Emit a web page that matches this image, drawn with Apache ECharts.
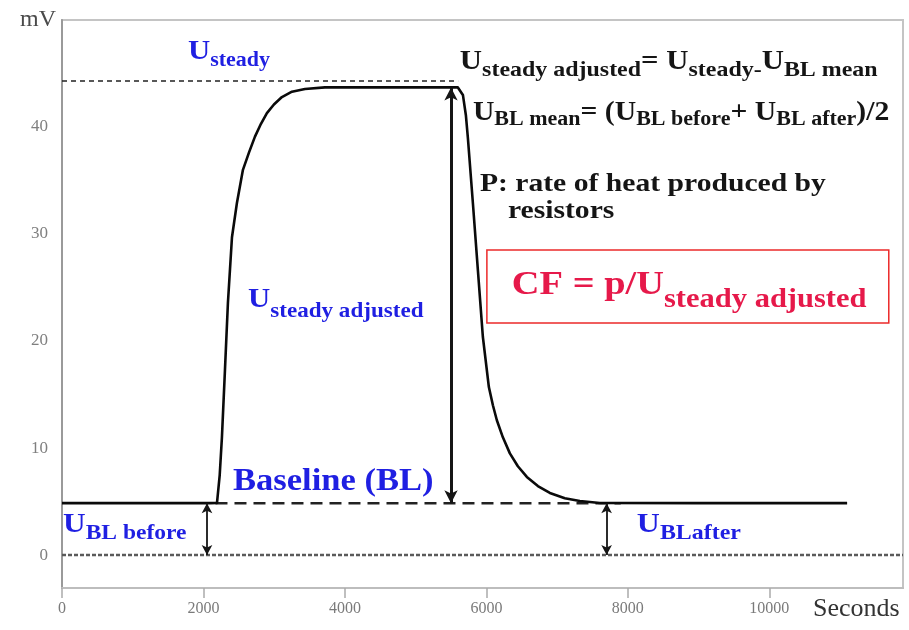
<!DOCTYPE html>
<html>
<head>
<meta charset="utf-8">
<title>Calibration factor from a heating pulse</title>
<script src="https://cdn.jsdelivr.net/npm/echarts@6/dist/echarts.min.js"></script>
<style>
  html, body { margin: 0; padding: 0; background: #fff; }
  #chart { width: 909px; height: 630px; }
</style>
</head>
<body>
<div id="chart"></div>
<script>
// Heat-flux sensor output (mV) over time (s) during an electrical calibration pulse
const timeS = [0, 2100, 2191, 2230, 2261, 2304, 2346, 2403, 2473, 2558, 2643, 2728, 2813, 2897, 2996,
  3109, 3251, 3435, 3717, 4600, 5597, 5625, 5668, 5710, 5738, 5809, 5880, 5950, 6035, 6092, 6148,
  6233, 6332, 6445, 6572, 6728, 6897, 7109, 7321, 7604, 9000, 11100];
const signalMV = [4.85, 4.85, 4.86, 7.5, 11.0, 17.3, 23.6, 29.7, 32.9, 36.0, 37.6, 39.1, 40.3, 41.3, 42.1,
  42.8, 43.3, 43.55, 43.7, 43.7, 43.7, 43.6, 43.0, 41.1, 39.0, 32.9, 26.6, 20.4, 15.7, 14.0, 12.6,
  11.0, 9.5, 8.3, 7.3, 6.45, 5.8, 5.3, 5.05, 4.86, 4.85, 4.85];

// Reference levels
const steadyMV = 44.3;       // U steady (dashed guide)
const baselineMV = 4.85;     // U BL
const zeroMV = 0;

// Where the level differences are measured (s)
const blBeforeT = 2050;
const adjustedT = 5500;
const blAfterT = 7700;

// Axis ticks
const yTickValues = [0, 10, 20, 30, 40];
const xTickStep = 2000;
const xMax = 11890;
const yMin = -3.08, yMax = 50;

const BLUE = '#1f1fe2';
const INK = '#151515';
const RED = '#e6194a';
const SERIF = '"Liberation Serif", "Times New Roman", serif';

function subStyles(color, big, small, drop) {
  return {
    U: { fontSize: big, fontWeight: 'bold', fontFamily: SERIF, fill: color, verticalAlign: 'top' },
    s: { fontSize: small, fontWeight: 'bold', fontFamily: SERIF, fill: color, verticalAlign: 'top', padding: [drop, 0, 0, 0] }
  };
}

// Text annotations, anchored (top-left) in data coordinates
const notes = [
  { t: 1781, v: 48.3, sx: 1.1, text: '{U|U}{s|steady}', rich: subStyles(BLUE, 28, 20, 13) },
  { t: 2629, v: 25.14, sx: 1.1, text: '{U|U}{s|steady adjusted}', rich: subStyles(BLUE, 28, 21, 15) },
  { t: 2417, v: 8.37, sx: 1.08, text: '{U|Baseline (BL)}', rich: subStyles(BLUE, 32, 20, 0) },
  { t: 14, v: 4.11, sx: 1.12, text: '{U|U}{s|BL before}', rich: subStyles(BLUE, 28, 21, 12) },
  { t: 8127, v: 4.11, sx: 1.14, text: '{U|U}{s|BLafter}', rich: subStyles(BLUE, 28, 21, 12) },
  { t: 5625, v: 47.3, sx: 1.14, text: '{U|U}{s|steady adjusted}{U|= U}{s|steady}{s|-}{U|U}{s|BL mean}', rich: subStyles(INK, 27, 21, 11) },
  { t: 5809, v: 42.6, sx: 1.1, text: '{U|U}{s|BL mean}{U|= (U}{s|BL before}{U|+ U}{s|BL after}{U|)/2}', rich: subStyles(INK, 27, 20, 11) },
  { t: 5908, v: 35.85, sx: 1.14, text: '{U|P: rate of heat produced by}', rich: subStyles(INK, 26, 20, 0) },
  { t: 6304, v: 33.3, sx: 1.14, text: '{U|resistors}', rich: subStyles(INK, 26, 20, 0) },
  { t: 6360, v: 26.8, sx: 1.13, text: '{U|CF = p/U}{s|steady adjusted}', rich: subStyles(RED, 34, 27, 18) }
];

// Framed formula box corners (data coordinates)
const boxFrom = [6007, 28.5];
const boxTo = [11689, 21.68];

const chart = echarts.init(document.getElementById('chart'), null, { renderer: 'canvas' });

const arrowLine = (t, from, to, width, size) => ({
  silent: true,
  symbol: ['arrow', 'arrow'],
  symbolSize: size,
  label: { show: false },
  lineStyle: { color: INK, width: width, type: 'solid', opacity: 1 },
  emphasis: { disabled: true },
  data: [[{ coord: [t, from] }, { coord: [t, to] }]]
});

chart.setOption({
  animation: false,
  backgroundColor: '#ffffff',
  grid: {
    left: 62, right: 6, top: 20, bottom: 42,
    show: true, borderColor: '#c4c4c4', borderWidth: 2,
    containLabel: false, outerBoundsMode: 'none'
  },
  xAxis: {
    type: 'value',
    min: 0, max: xMax, interval: xTickStep,
    name: 'Seconds',
    nameLocation: 'end',
    nameGap: -90,
    nameMoveOverlap: false,
    nameTextStyle: { fontFamily: SERIF, fontSize: 26, color: '#333', align: 'left', verticalAlign: 'top', padding: [8, 0, 0, 0] },
    axisLine: { show: true, onZero: false, lineStyle: { color: '#bdbdbd', width: 2 } },
    axisTick: { show: true, length: 10, lineStyle: { color: '#aaa', width: 1.5 } },
    axisLabel: { color: '#7a7a7a', fontFamily: SERIF, fontSize: 16, margin: 13, showMaxLabel: false,
      formatter: v => String(v) },
    splitLine: { show: false }
  },
  yAxis: {
    type: 'value',
    min: yMin, max: yMax,
    name: 'mV',
    nameLocation: 'end',
    nameGap: 0,
    nameMoveOverlap: false,
    nameTextStyle: { fontFamily: SERIF, fontSize: 24, color: '#4a4a4a', align: 'right', verticalAlign: 'middle', padding: [0, 6, 0, 0] },
    axisLine: { show: true, onZero: false, lineStyle: { color: '#9a9a9a', width: 2 } },
    axisTick: { show: false },
    axisLabel: { color: '#7f7f7f', fontFamily: SERIF, fontSize: 17, margin: 14, customValues: yTickValues },
    splitLine: { show: false }
  },
  series: [
    {
      name: 'zero',
      type: 'line',
      data: [[0, zeroMV], [xMax, zeroMV]],
      symbol: 'none',
      lineStyle: { color: '#5a5a5a', width: 2.5, type: [4, 2] },
      z: 2
    },
    {
      name: 'steady level',
      type: 'line',
      data: [[0, steadyMV], [5600, steadyMV]],
      symbol: 'none',
      lineStyle: { color: '#222', width: 1.3, type: [5, 4] },
      z: 2
    },
    {
      name: 'baseline',
      type: 'line',
      data: [[2170, baselineMV], [7900, baselineMV]],
      symbol: 'none',
      lineStyle: { color: '#222', width: 2.5, type: [12, 7] },
      z: 2
    },
    {
      name: 'signal',
      type: 'line',
      data: timeS.map((t, i) => [t, signalMV[i]]),
      symbol: 'none',
      smooth: false,
      lineStyle: { color: '#0a0a0a', width: 2.6, join: 'round' },
      z: 3,
      markArea: {
        silent: true,
        itemStyle: { color: 'rgba(0,0,0,0)', borderColor: '#ec2a2a', borderWidth: 1.5 },
        data: [[{ coord: boxFrom }, { coord: boxTo }]]
      }
    },
    {
      name: 'adjusted arrow',
      type: 'line',
      data: [],
      markLine: arrowLine(adjustedT, steadyMV - 0.6, baselineMV, 3, [10, 13]),
      z: 4
    },
    {
      name: 'before arrow',
      type: 'line',
      data: [],
      markLine: arrowLine(blBeforeT, baselineMV, zeroMV, 1.8, [8, 10]),
      z: 4
    },
    {
      name: 'after arrow',
      type: 'line',
      data: [],
      markLine: arrowLine(blAfterT, baselineMV, zeroMV, 1.8, [8, 10]),
      z: 4
    },
    {
      name: 'notes',
      type: 'custom',
      clip: false,
      silent: true,
      z: 5,
      data: notes.map(n => [n.t, n.v]),
      encode: { x: 0, y: 1 },
      renderItem: (params, api) => {
        const n = notes[params.dataIndex];
        const p = api.coord([n.t, n.v]);
        return {
          type: 'text',
          x: p[0], y: p[1],
          scaleX: n.sx,
          style: {
            text: n.text,
            rich: n.rich,
            align: 'left',
            verticalAlign: 'top',
            fontFamily: SERIF,
            fontWeight: 'bold'
          }
        };
      }
    }
  ]
});
</script>
</body>
</html>
